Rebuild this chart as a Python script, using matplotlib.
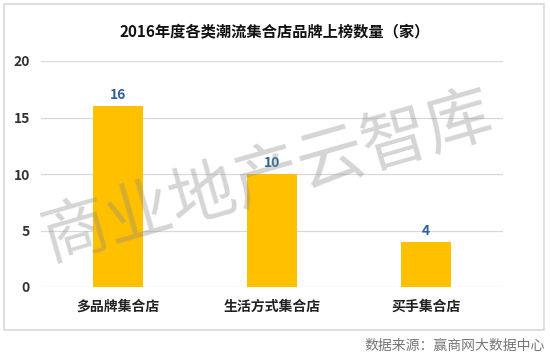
import matplotlib
matplotlib.use("Agg")
import matplotlib.pyplot as plt
from matplotlib.patches import Rectangle

plt.rcParams['font.family'] = ['Noto Sans CJK SC', 'DejaVu Sans']

categories = ["多品牌集合店", "生活方式集合店", "买手集合店"]
counts = [16, 10, 4]
yticks = [0, 5, 10, 15, 20]
title = "2016年度各类潮流集合店品牌上榜数量（家）"
source = "数据来源：赢商网大数据中心"
watermark = "商业地产云智库"

fig = plt.figure(figsize=(5.5, 3.61), dpi=100)

# outer frame
fig.patches.append(Rectangle((4 / 550, 1 - 330 / 361), 540 / 550, 326 / 361,
                             transform=fig.transFigure, fill=False,
                             edgecolor="#d9d9d9", linewidth=1.2))

ax = fig.add_axes([41 / 550, 1 - 287 / 361, 462 / 550, 226 / 361])
x = range(len(categories))
ax.bar(x, counts, width=0.32, color="#FFC000", zorder=3)
for xi, v in zip(x, counts):
    ax.text(xi, v + 0.35, str(v), ha="center", va="bottom", color="#2E6099",
            fontsize=10, fontweight="bold")

ax.set_xlim(-0.5, 2.5)
ax.set_ylim(0, 20)
ax.set_yticks(yticks)
ax.set_xticks(list(x))
ax.set_xticklabels(categories, fontsize=10, fontweight="bold", color="#222222")
for lab in ax.get_yticklabels():
    lab.set_fontsize(10)
    lab.set_fontweight("bold")
    lab.set_color("#333333")
ax.tick_params(length=0, axis="both")
ax.tick_params(axis="y", pad=8)
ax.tick_params(axis="x", pad=9)
ax.grid(axis="y", color="#d9d9d9", linewidth=0.9, zorder=0)
for s in ax.spines.values():
    s.set_visible(False)

fig.text(0.5, 1 - 31 / 361, title, ha="center", va="center", fontsize=11,
         fontweight="bold", color="#111111")
fig.text(545 / 550, 1 - 346 / 361, source, ha="right", va="center",
         fontsize=10, color="#777777")
fig.text(268 / 550, 1 - 178 / 361, watermark, ha="center", va="center",
         fontsize=48, color="#888888", alpha=0.35, rotation=16, zorder=5)

fig.savefig("out.png", dpi=100)
